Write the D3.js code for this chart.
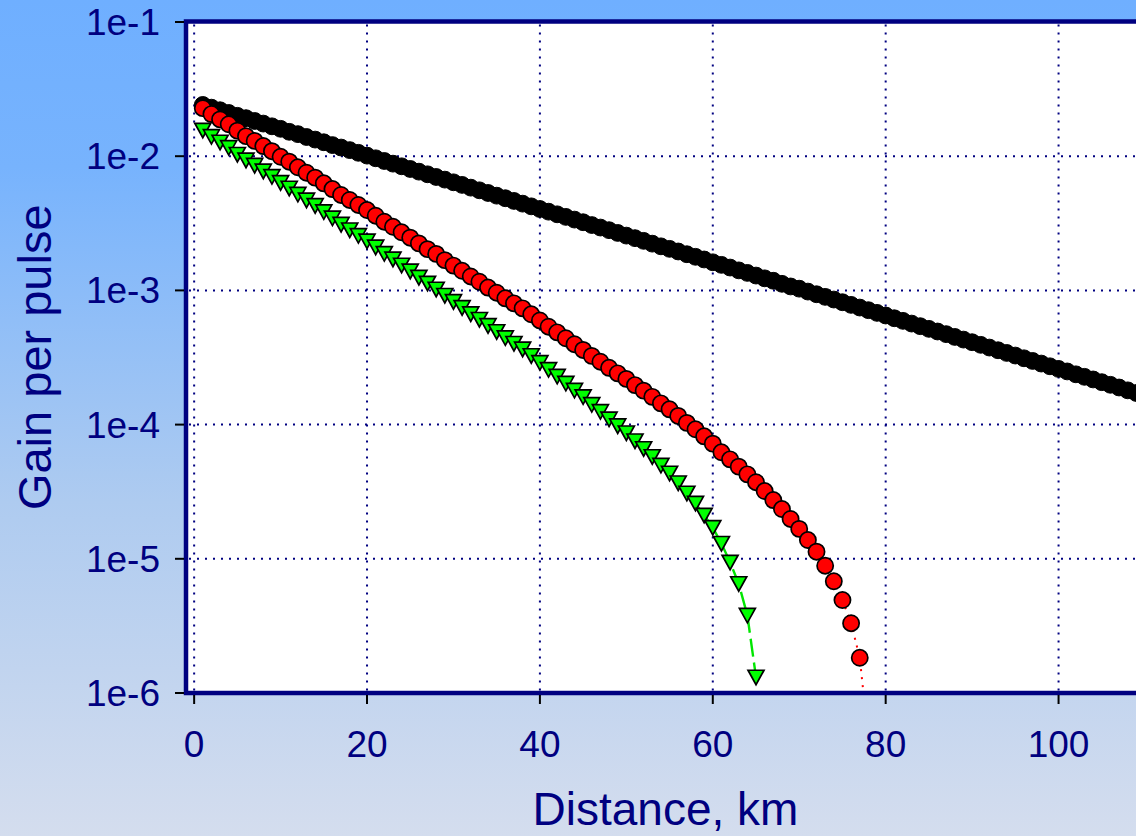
<!DOCTYPE html>
<html>
<head>
<meta charset="utf-8">
<script src="https://cdn.jsdelivr.net/npm/d3@7"></script>
<style>
  html, body { margin: 0; padding: 0; overflow: hidden; }
  svg { display: block; }
</style>
</head>
<body>
<div id="chart"></div>
<script>
// gain per pulse, one point per km starting at 1 km
var gainBlack = [
  2.41e-2, 2.30e-2, 2.20e-2, 2.10e-2, 2.00e-2, 1.92e-2, 1.83e-2, 1.75e-2, 1.67e-2, 1.60e-2,
  1.52e-2, 1.46e-2, 1.39e-2, 1.33e-2, 1.27e-2, 1.21e-2, 1.16e-2, 1.11e-2, 1.06e-2, 1.01e-2,
  9.65e-3, 9.21e-3, 8.80e-3, 8.41e-3, 8.03e-3, 7.67e-3, 7.33e-3, 7.00e-3, 6.69e-3, 6.39e-3,
  6.11e-3, 5.83e-3, 5.57e-3, 5.32e-3, 5.08e-3, 4.86e-3, 4.64e-3, 4.43e-3, 4.23e-3, 4.04e-3,
  3.86e-3, 3.69e-3, 3.53e-3, 3.37e-3, 3.22e-3, 3.07e-3, 2.94e-3, 2.81e-3, 2.68e-3, 2.56e-3,
  2.45e-3, 2.34e-3, 2.23e-3, 2.13e-3, 2.04e-3, 1.95e-3, 1.86e-3, 1.78e-3, 1.70e-3, 1.62e-3,
  1.55e-3, 1.48e-3, 1.41e-3, 1.35e-3, 1.29e-3, 1.23e-3, 1.18e-3, 1.12e-3, 1.07e-3, 1.03e-3,
  9.80e-4, 9.36e-4, 8.95e-4, 8.55e-4, 8.16e-4, 7.80e-4, 7.45e-4, 7.12e-4, 6.80e-4, 6.50e-4,
  6.20e-4, 5.93e-4, 5.66e-4, 5.41e-4, 5.17e-4, 4.94e-4, 4.72e-4, 4.50e-4, 4.30e-4, 4.11e-4,
  3.93e-4, 3.75e-4, 3.58e-4, 3.42e-4, 3.27e-4, 3.12e-4, 2.98e-4, 2.85e-4, 2.72e-4, 2.60e-4,
  2.49e-4, 2.37e-4, 2.27e-4, 2.17e-4, 2.07e-4, 1.98e-4, 1.89e-4, 1.80e-4, 1.72e-4, 1.65e-4,
  1.57e-4
];
var gainRed = [
  2.28e-2, 2.06e-2, 1.88e-2, 1.73e-2, 1.55e-2, 1.41e-2, 1.30e-2, 1.19e-2, 1.09e-2, 9.9e-3,
  9.1e-3, 8.27e-3, 7.53e-3, 6.92e-3, 6.28e-3, 5.69e-3, 5.14e-3, 4.72e-3, 4.33e-3, 3.97e-3,
  3.60e-3, 3.25e-3, 2.98e-3, 2.71e-3, 2.47e-3, 2.24e-3, 2.03e-3, 1.87e-3, 1.68e-3, 1.53e-3,
  1.40e-3, 1.27e-3, 1.16e-3, 1.05e-3, 9.61e-4, 8.73e-4, 8.01e-4, 7.35e-4, 6.64e-4, 5.97e-4,
  5.36e-4, 4.87e-4, 4.40e-4, 3.97e-4, 3.60e-4, 3.25e-4, 2.94e-4, 2.65e-4, 2.41e-4, 2.19e-4,
  1.97e-4, 1.79e-4, 1.61e-4, 1.44e-4, 1.30e-4, 1.16e-4, 1.03e-4, 9.23e-5, 8.18e-5, 7.21e-5,
  6.22e-5, 5.51e-5, 4.86e-5, 4.26e-5, 3.72e-5, 3.20e-5, 2.74e-5, 2.35e-5, 1.98e-5, 1.67e-5,
  1.38e-5, 1.13e-5, 8.88e-6, 6.80e-6, 4.93e-6, 3.31e-6, 1.83e-6, 4.5e-7
];
var gainGreen = [
  1.56e-2, 1.40e-2, 1.27e-2, 1.16e-2, 1.03e-2, 9.34e-3, 8.54e-3, 7.74e-3, 7.05e-3, 6.35e-3,
  5.77e-3, 5.20e-3, 4.70e-3, 4.28e-3, 3.85e-3, 3.46e-3, 3.10e-3, 2.82e-3, 2.56e-3, 2.33e-3,
  2.10e-3, 1.88e-3, 1.71e-3, 1.54e-3, 1.39e-3, 1.25e-3, 1.13e-3, 1.02e-3, 9.16e-4, 8.24e-4,
  7.44e-4, 6.68e-4, 6.07e-4, 5.46e-4, 4.92e-4, 4.43e-4, 4.02e-4, 3.65e-4, 3.26e-4, 2.90e-4,
  2.57e-4, 2.29e-4, 2.03e-4, 1.80e-4, 1.61e-4, 1.41e-4, 1.25e-4, 1.10e-4, 9.78e-5, 8.66e-5,
  7.55e-5, 6.61e-5, 5.76e-5, 4.97e-5, 4.34e-5, 3.67e-5, 3.08e-5, 2.59e-5, 2.11e-5, 1.71e-5,
  1.30e-5, 9.42e-6, 6.52e-6, 3.79e-6, 1.31e-6
];
var xTicks = [0, 20, 40, 60, 80, 100];
var yTicks = [1e-1, 1e-2, 1e-3, 1e-4, 1e-5, 1e-6];
var yTickLabels = ["1e-1", "1e-2", "1e-3", "1e-4", "1e-5", "1e-6"];

var width = 1136, height = 836;
var navy = "#000080";
var font = "'Liberation Sans', Arial, sans-serif";

// plot box (right side runs past the picture edge)
var pLeft = 186, pRight = 1145, pTop = 21.5, pBottom = 693;

var x = d3.scaleLinear().domain([-1, 110]).range([pLeft - 0.5, pRight]);
var y = d3.scaleLog().domain([1e-6, 1e-1]).range([pBottom, pTop + 0.5]);

function toPoints(arr) {
    return arr.map(function (v, i) { return { km: i + 1, g: v }; });
}
var black = toPoints(gainBlack);
var red = toPoints(gainRed);
var green = toPoints(gainGreen);

var svg = d3.select("#chart").append("svg")
    .attr("width", width)
    .attr("height", height);

var defs = svg.append("defs");
var grad = defs.append("linearGradient")
    .attr("id", "bg").attr("x1", 0).attr("y1", 0).attr("x2", 0).attr("y2", 1);
grad.append("stop").attr("offset", "0").attr("stop-color", "#6fafff");
grad.append("stop").attr("offset", "0.2").attr("stop-color", "#77b3fd");
grad.append("stop").attr("offset", "0.6").attr("stop-color", "#aecbf0");
grad.append("stop").attr("offset", "1").attr("stop-color", "#d4ddee");

defs.append("clipPath").attr("id", "plotclip")
    .append("rect")
    .attr("x", pLeft).attr("y", pTop)
    .attr("width", pRight - pLeft).attr("height", pBottom - pTop);

svg.append("rect").attr("width", width).attr("height", height).attr("fill", "url(#bg)");

svg.append("rect")
    .attr("x", pLeft).attr("y", pTop)
    .attr("width", pRight - pLeft).attr("height", pBottom - pTop)
    .attr("fill", "#ffffff");

// dotted grid
var grid = svg.append("g").attr("clip-path", "url(#plotclip)");
grid.selectAll(".vg").data(xTicks).enter().append("line")
    .attr("x1", function (d) { return x(d); })
    .attr("x2", function (d) { return x(d); })
    .attr("y1", pTop + 3).attr("y2", pBottom)
    .attr("stroke", navy).attr("stroke-width", 2)
    .attr("stroke-dasharray", "2,6");
grid.selectAll(".hg").data(yTicks.slice(1, 5)).enter().append("line")
    .attr("x1", pLeft + 3).attr("x2", pRight)
    .attr("y1", function (d) { return y(d); })
    .attr("y2", function (d) { return y(d); })
    .attr("stroke", navy).attr("stroke-width", 2)
    .attr("stroke-dasharray", "2,6");

var plot = svg.append("g").attr("clip-path", "url(#plotclip)");

var line = d3.line()
    .x(function (d) { return x(d.km); })
    .y(function (d) { return y(d.g); });

plot.append("path").datum(red)
    .attr("d", line).attr("fill", "none")
    .attr("stroke", "#ff0000").attr("stroke-width", 2)
    .attr("stroke-dasharray", "2,6");
plot.append("path").datum(green)
    .attr("d", line).attr("fill", "none")
    .attr("stroke", "#00e600").attr("stroke-width", 2.4)
    .attr("stroke-dasharray", "18,6");

plot.selectAll(".blk").data(black).enter().append("circle")
    .attr("cx", function (d) { return x(d.km); })
    .attr("cy", function (d) { return y(d.g); })
    .attr("r", 8.4)
    .attr("fill", "#000000").attr("stroke", "#000000").attr("stroke-width", 1);

plot.selectAll(".redc").data(red).enter().append("circle")
    .attr("cx", function (d) { return x(d.km); })
    .attr("cy", function (d) { return y(d.g); })
    .attr("r", 8.1)
    .attr("fill", "#ff0000").attr("stroke", "#000000").attr("stroke-width", 1.7);

// downward triangles
plot.selectAll(".tri").data(green).enter().append("path")
    .attr("d", function (d) {
        var cx = x(d.km), cy = y(d.g);
        return "M" + (cx - 8) + "," + (cy - 7) + "L" + (cx + 8) + "," + (cy - 7) +
            "L" + cx + "," + (cy + 7.5) + "Z";
    })
    .attr("fill", "#00ff00").attr("stroke", "#000000").attr("stroke-width", 1.7)
    .attr("stroke-linejoin", "miter");

// frame
svg.append("rect")
    .attr("x", pLeft).attr("y", pTop)
    .attr("width", pRight - pLeft).attr("height", pBottom - pTop)
    .attr("fill", "none").attr("stroke", navy).attr("stroke-width", 4.5);

// ticks
svg.selectAll(".yt").data(yTicks).enter().append("line")
    .attr("x1", 175).attr("x2", pLeft - 2)
    .attr("y1", function (d) { return y(d); })
    .attr("y2", function (d) { return y(d); })
    .attr("stroke", "#000000").attr("stroke-width", 2);
svg.selectAll(".xt").data(xTicks).enter().append("line")
    .attr("x1", function (d) { return x(d); })
    .attr("x2", function (d) { return x(d); })
    .attr("y1", pBottom + 2).attr("y2", pBottom + 11)
    .attr("stroke", "#000000").attr("stroke-width", 2);

// tick labels
svg.selectAll(".yl").data(yTicks).enter().append("text")
    .attr("x", 160)
    .attr("y", function (d) { return y(d) + 13; })
    .attr("text-anchor", "end")
    .style("font-family", font).style("font-size", "37px")
    .attr("fill", navy)
    .text(function (d, i) { return yTickLabels[i]; });
svg.selectAll(".xl").data(xTicks).enter().append("text")
    .attr("x", function (d) { return x(d); })
    .attr("y", 757)
    .attr("text-anchor", "middle")
    .style("font-family", font).style("font-size", "37px")
    .attr("fill", navy)
    .text(function (d) { return d; });

// axis titles
svg.append("text")
    .attr("x", (pLeft + pRight) / 2).attr("y", 825)
    .attr("text-anchor", "middle")
    .style("font-family", font).style("font-size", "46px")
    .attr("fill", navy)
    .text("Distance, km");
svg.append("text")
    .attr("transform", "translate(51," + ((pTop + pBottom) / 2) + ") rotate(-90)")
    .attr("text-anchor", "middle")
    .style("font-family", font).style("font-size", "47px")
    .attr("fill", navy)
    .text("Gain per pulse");
</script>
</body>
</html>
